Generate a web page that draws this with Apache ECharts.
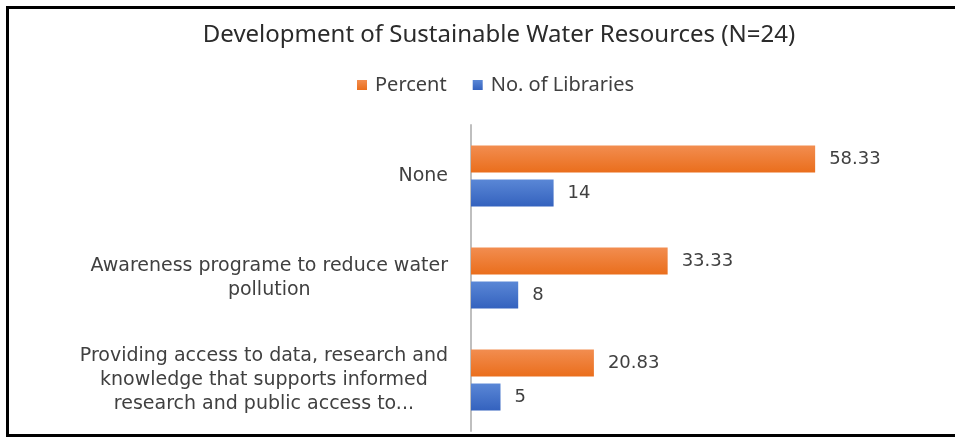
<!DOCTYPE html>
<html>
<head>
<meta charset="utf-8">
<script src="https://cdn.jsdelivr.net/npm/echarts@6/dist/echarts.min.js"></script>
<style>
html,body{margin:0;padding:0;background:#fff;}
#chart{width:955px;height:437px;}
</style>
</head>
<body>
<div id="chart"></div>
<script>
var titleText = 'Development of Sustainable Water Resources (N=24)';
var categories = [
  'None',
  'Awareness programe to reduce water\npollution',
  'Providing access to data, research and\nknowledge that supports informed\nresearch and public access to...'
];
var seriesNames = ['Percent', 'No. of Libraries'];
var percentValues = [58.33, 33.33, 20.83];
var libraryValues = [14, 8, 5];

var chart = echarts.init(document.getElementById('chart'), null, {renderer: 'canvas'});

function grad(top, bottom) {
  return new echarts.graphic.LinearGradient(0, 0, 0, 1, [
    {offset: 0, color: top}, {offset: 1, color: bottom}
  ]);
}

var labelStyle = {
  show: true,
  position: 'right',
  distance: 14,
  color: '#404040',
  fontFamily: 'DejaVu Sans',
  fontSize: 18
};

var borderStyle = {stroke: '#000', lineWidth: 3};

var option = {
  animation: false,
  backgroundColor: '#fff',
  title: {
    text: titleText,
    left: 494,
    top: 18,
    textAlign: 'center',
    textStyle: {fontFamily: 'Noto Sans', fontSize: 24, fontWeight: 'normal', color: '#2b2b2b'}
  },
  legend: {
    data: seriesNames,
    left: 352,
    top: 70,
    itemWidth: 10,
    itemHeight: 10,
    itemGap: 26,
    icon: 'rect',
    textStyle: {fontFamily: 'Noto Sans', fontSize: 20, color: '#404040', padding: [0, 0, 0, 3]}
  },
  graphic: [
    {type: 'line', shape: {x1: 6, y1: 7.5, x2: 955, y2: 7.5}, style: borderStyle, silent: true, z: 100},
    {type: 'line', shape: {x1: 7.5, y1: 6, x2: 7.5, y2: 437}, style: borderStyle, silent: true, z: 100},
    {type: 'line', shape: {x1: 6, y1: 435.5, x2: 955, y2: 435.5}, style: borderStyle, silent: true, z: 100}
  ],
  grid: {left: 471, top: 125, width: 472, height: 306},
  xAxis: {
    type: 'value',
    min: 0,
    max: 80,
    show: false,
    splitLine: {show: false}
  },
  yAxis: {
    type: 'category',
    data: categories,
    inverse: true,
    axisTick: {show: false},
    axisLine: {show: true, lineStyle: {color: '#bfbfbf', width: 2}},
    axisLabel: {
      margin: 23,
      color: '#404040',
      formatter: function (v) {
        return v.split('\n').map(function (l) { return '{c|' + l + '}'; }).join('\n');
      },
      rich: {
        c: {align: 'center', fontFamily: 'DejaVu Sans', fontSize: 19, lineHeight: 24, color: '#404040'}
      }
    }
  },
  series: [
    {
      name: seriesNames[0],
      type: 'bar',
      data: percentValues,
      barWidth: 27,
      barGap: '26%',
      itemStyle: {color: grad('#F28D50', '#EA6E1C')},
      label: labelStyle
    },
    {
      name: seriesNames[1],
      type: 'bar',
      data: libraryValues,
      barWidth: 27,
      barGap: '26%',
      itemStyle: {color: grad('#5A87D6', '#3462BE')},
      label: labelStyle
    }
  ]
};
chart.setOption(option);
</script>
</body>
</html>
